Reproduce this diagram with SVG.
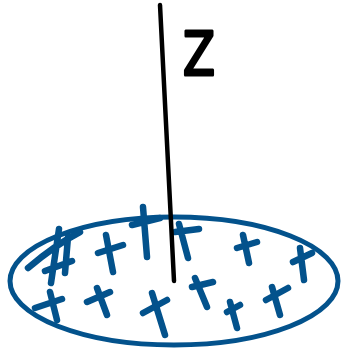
<svg xmlns="http://www.w3.org/2000/svg" width="343" height="352" viewBox="0 0 343 352">
<style>
.b{fill:none;stroke:#03528c;stroke-width:6.5;stroke-linecap:round}
.k{fill:none;stroke:#000;stroke-width:4.5;stroke-linecap:round}
.t{font-family:"DejaVu Sans",sans-serif;font-size:60px;fill:#000;stroke:#000;stroke-width:3;stroke-linejoin:round}
</style>
<rect width="343" height="352" fill="#fff"/>
<g id="disk">
<ellipse cx="174" cy="281" rx="164" ry="64" fill="none" stroke="#03528c" stroke-width="5"/>
<g id="marks" class="b">
<path d="M28 268Q55 245 80 232M59 229L51 283M68 237L65 273M45 271L72 261"/>
<path d="M106 235L113 272M98 253L123 245"/>
<path d="M143 207L147 257M132 225L160 218"/>
<path d="M179 224L188 258M175 232L199 229"/>
<path d="M243 235L249 263M237 248L257 242"/>
<path d="M300 248L304 280M293 262L312 253"/>
<path d="M35 308L62 299M50 292L57 320"/>
<path d="M87 302L110 292M97 288L107 315"/>
<path d="M143 313L167 300M152 293L165 335"/>
<path d="M192 287L213 282M195 278L207 307"/>
<path d="M227 312L240 305M230 302L237 328"/>
<path d="M266 300L288 288M272 287L280 315"/>
</g>
</g>
<g id="axis">
<path class="k" d="M160 5L174 281"/>
<text class="t" x="183" y="75" textLength="32" lengthAdjust="spacingAndGlyphs">Z</text>
</g>
</svg>
